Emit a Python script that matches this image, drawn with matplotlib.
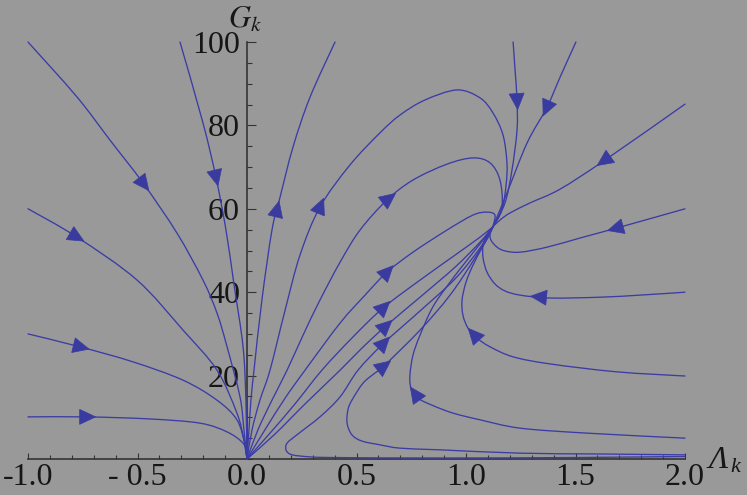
import numpy as np
import matplotlib
matplotlib.use("Agg")
import matplotlib.pyplot as plt
from matplotlib.patches import Polygon, PathPatch
from matplotlib.path import Path

# ---------------- data ----------------
# each flow line: list of (Lambda_k, G_k) points, ordered along the flow direction
curve_A = [(-1.0, 100), (-0.776, 86.8), (-0.626, 76.5), (-0.475, 66.2), (-0.320, 54.2),
           (-0.201, 42.9), (-0.137, 35.0), (-0.091, 26.9), (-0.032, 14.9), (-0.014, 7.0), (0, 0)]
curve_B = [(-1.0, 60.0), (-0.776, 53.2), (-0.502, 42.9), (-0.292, 30.9), (-0.137, 21.3),
           (-0.046, 11.0), (-0.014, 4.6), (0, 0)]
curve_C = [(-1.0, 30.0), (-0.763, 26.9), (-0.521, 23.3), (-0.292, 18.9), (-0.137, 14.1),
           (-0.046, 9.4), (-0.009, 3.4), (0, 0)]
curve_D = [(-1.0, 10.1), (-0.731, 10.1), (-0.443, 9.6), (-0.215, 8.6), (-0.091, 6.5),
           (-0.018, 3.8), (-0.005, 1.5), (0, 0)]
curve_E = [(-0.306, 100), (-0.201, 80.6), (-0.142, 67.6), (-0.096, 54.9), (-0.059, 41.7),
           (-0.018, 26.9), (-0.005, 14.1), (0, 0)]
curve_F = [(0, 0), (0.009, 7.0), (0.018, 14.1), (0.032, 21.3), (0.068, 38.1), (0.114, 54.9),
           (0.151, 62.8), (0.210, 74.8), (0.288, 86.8), (0.402, 100.0)]
curve_G = [(0, 0), (0.023, 7.0), (0.059, 14.1), (0.105, 21.3), (0.174, 35.7), (0.242, 48.9),
           (0.333, 60.4), (0.470, 70.5), (0.607, 78.2), (0.699, 82.5), (0.813, 86.1),
           (0.959, 88.5), (1.064, 86.6), (1.123, 83.0), (1.169, 77.7), (1.187, 71.0),
           (1.183, 65.7), (1.164, 59.7), (1.123, 55.7)]
curve_H = [(0, 0), (0.050, 7.0), (0.114, 14.1), (0.183, 21.3), (0.256, 29.7), (0.333, 38.1),
           (0.425, 47.2), (0.516, 54.9), (0.639, 62.1), (0.758, 66.9), (0.913, 70.7),
           (1.032, 72.2), (1.110, 71.0), (1.155, 66.9), (1.164, 60.4), (1.123, 55.7)]
curve_I = [(0, 0), (0.082, 7.0), (0.174, 14.6), (0.265, 21.3), (0.425, 32.6), (0.539, 39.3),
           (0.639, 44.8), (0.758, 49.6), (0.913, 54.9), (1.032, 58.5), (1.096, 59.2),
           (1.132, 58.5), (1.123, 55.7)]
curve_J = [(0, 0), (0.105, 6.2), (0.219, 13.2), (0.342, 21.3), (0.479, 29.0), (0.621, 36.2),
           (0.790, 42.9), (0.950, 48.9), (1.064, 53.2), (1.123, 55.7)]
curve_K = [(0, 0), (0.128, 6.0), (0.265, 13.2), (0.425, 21.3), (0.525, 26.6), (0.630, 31.7),
           (0.790, 38.8), (0.950, 46.0), (1.064, 52.0), (1.123, 55.7)]
curve_O = [(2.0, 0.6), (1.507, 0.36), (0.927, 0.24), (0.379, 0.36), (0.242, 0.72), (0.196, 1.2),
           (0.178, 2.2), (0.183, 3.8), (0.228, 5.8), (0.333, 10.1), (0.425, 14.9), (0.507, 21.3),
           (0.621, 27.6), (0.790, 35.5), (0.950, 43.2), (1.064, 50.6), (1.123, 55.7)]
curve_N = [(2.0, 1.0), (1.612, 1.2), (1.247, 1.4), (0.881, 2.2), (0.699, 2.6), (0.607, 3.4),
           (0.525, 4.3), (0.479, 5.8), (0.457, 8.6), (0.461, 11.8), (0.479, 14.1), (0.530, 18.2),
           (0.584, 20.6), (0.621, 22.1), (0.790, 30.9), (0.927, 39.3), (1.041, 48.2), (1.123, 55.7)]
curve_P7 = [(2.0, 5.0), (1.553, 6.2), (1.247, 7.4), (1.064, 9.4), (0.941, 11.0), (0.845, 12.9),
            (0.781, 14.6), (0.749, 17.0), (0.744, 20.1), (0.758, 24.9), (0.790, 29.7),
            (0.849, 36.5), (0.927, 42.4), (1.005, 47.7), (1.078, 52.5), (1.123, 55.7)]
curve_P6 = [(2.0, 19.9), (1.689, 20.9), (1.384, 22.8), (1.215, 24.5), (1.110, 26.9), (1.050, 29.0),
            (1.009, 31.4), (0.986, 34.5), (0.982, 38.1), (1.000, 42.4), (1.032, 46.5),
            (1.073, 50.6), (1.105, 53.5), (1.123, 55.7)]
curve_P5 = [(2.0, 40.0), (1.795, 39.3), (1.612, 38.8), (1.384, 38.6), (1.247, 39.3), (1.178, 40.3),
            (1.132, 42.0), (1.096, 44.8), (1.078, 48.2), (1.078, 51.3), (1.096, 53.7), (1.123, 55.7)]
curve_P4 = [(2.0, 60.0), (1.689, 55.4), (1.521, 53.0), (1.370, 50.8), (1.247, 49.6), (1.178, 49.9),
            (1.142, 50.8), (1.114, 52.5), (1.110, 54.2), (1.123, 55.7)]
curve_P3 = [(2.0, 85.1), (1.635, 71.7), (1.429, 64.7), (1.292, 61.4), (1.201, 59.0),
            (1.155, 57.3), (1.123, 55.7)]
curve_P2 = [(1.502, 100.0), (1.434, 92.1), (1.370, 84.4), (1.279, 75.8), (1.187, 63.8), (1.123, 55.7)]
curve_P1 = [(1.215, 100), (1.224, 93.3), (1.233, 86.1), (1.233, 78.9), (1.210, 69.3),
            (1.178, 61.4), (1.123, 55.7)]

curves = [curve_A, curve_B, curve_C, curve_D, curve_E, curve_F, curve_G, curve_H, curve_I,
          curve_J, curve_K, curve_O, curve_N, curve_P7, curve_P6, curve_P5, curve_P4,
          curve_P3, curve_P2, curve_P1]
# approximate arrow-head location on each curve (same order)
arrow_at = [(-0.475, 66.2), (-0.785, 53.2), (-0.763, 27.1), (-0.735, 10.1), (-0.155, 67.6),
            (0.128, 59.7), (0.333, 60.4), (0.639, 62.6), (0.635, 44.8), (0.621, 36.2),
            (0.630, 31.7), (0.621, 27.6), (0.621, 22.1), (0.758, 14.9), (1.041, 29.7),
            (1.338, 38.6), (1.689, 55.4), (1.635, 71.7), (1.370, 84.4), (1.233, 86.1)]

x_ticks = [-1.0, -0.5, 0.0, 0.5, 1.0, 1.5, 2.0]
x_tick_labels = ["-1.0", "- 0.5", "0.0", "0.5", "1.0", "1.5", "2.0"]
y_ticks = [20, 40, 60, 80, 100]
y_tick_labels = ["20", "40", "60", "80", "100"]

# ---------------- style ----------------
BG = "#999999"
LINE = "#3b3ca6"
ARROW = "#3a3b9e"
AXC = "#333333"
TXT = "#161616"

plt.rcParams["font.family"] = ["Liberation Serif", "DejaVu Serif"]
plt.rcParams["mathtext.fontset"] = "stix"

fig = plt.figure(figsize=(7.47, 4.95), dpi=100, facecolor=BG)
ax = fig.add_axes([28 / 747, 36 / 495, 657 / 747, 417 / 495])
ax.set_facecolor(BG)
ax.set_xlim(-1, 2)
ax.set_ylim(0, 100)

for s in ("top", "right"):
    ax.spines[s].set_visible(False)
ax.spines["left"].set_position(("data", 0))
ax.spines["bottom"].set_position(("data", 0))
for s in ("left", "bottom"):
    ax.spines[s].set_color(AXC)
    ax.spines[s].set_linewidth(1.2)
    ax.spines[s].set_zorder(1)

ax.set_xticks(x_ticks)
ax.set_xticklabels(x_tick_labels)
ax.set_xticks(np.arange(-1.0, 2.0001, 0.1), minor=True)
ax.set_yticks(y_ticks)
ax.set_yticklabels(y_tick_labels)
ax.set_yticks(np.arange(0, 100.001, 5), minor=True)
ax.tick_params(axis="x", which="major", direction="in", length=4.5, width=0.8, color=AXC,
               labelsize=23, labelcolor=TXT, pad=3)
ax.tick_params(axis="x", which="minor", direction="in", length=2.6, width=0.8, color=AXC)
ax.tick_params(axis="y", which="major", direction="in", length=6.5, width=0.8, color=AXC,
               labelsize=23, labelcolor=TXT, pad=5)
ax.tick_params(axis="y", which="minor", direction="in", length=3.8, width=0.8, color=AXC)

fig.canvas.draw()
T = ax.transData
Tinv = T.inverted()


def smooth_path(pts):
    """Cubic Bezier path through the given points (Catmull-Rom tangents, display space)."""
    P = T.transform(np.asarray(pts, dtype=float))
    n = len(P)
    verts = [P[0]]
    codes = [Path.MOVETO]
    for i in range(n - 1):
        p0 = P[i - 1] if i > 0 else P[i]
        p1, p2 = P[i], P[i + 1]
        p3 = P[i + 2] if i + 2 < n else P[i + 1]
        c1 = p1 + (p2 - p0) / 6.0
        c2 = p2 - (p3 - p1) / 6.0
        verts += [c1, c2, p2]
        codes += [Path.CURVE4] * 3
    return Path(Tinv.transform(np.array(verts)), codes)


for c in curves:
    ax.add_patch(PathPatch(smooth_path(c), facecolor="none", edgecolor=LINE, lw=0.95,
                           clip_on=False, zorder=3, capstyle="round", joinstyle="round"))

# arrow heads: filled triangles of fixed pixel size, oriented along the curve
L_HEAD, W_HEAD = 16.0, 7.5
for c, a in zip(curves, arrow_at):
    P = T.transform(np.array(c, dtype=float))
    q = T.transform(np.array(a, dtype=float))
    best = None
    for i in range(len(P) - 1):
        p0, p1 = P[i], P[i + 1]
        d = p1 - p0
        L2 = float(d @ d)
        if L2 == 0:
            continue
        t = np.clip(((q - p0) @ d) / L2, 0, 1)
        proj = p0 + t * d
        dist = np.hypot(*(q - proj))
        if best is None or dist < best[0]:
            best = (dist, proj, d / np.sqrt(L2))
    _, c0, u = best
    nrm = np.array([-u[1], u[0]])
    tip = c0 + u * L_HEAD * 0.6
    base = c0 - u * L_HEAD * 0.4
    tri = np.array([tip, base + nrm * W_HEAD, base - nrm * W_HEAD])
    ax.add_patch(Polygon(Tinv.transform(tri), closed=True, facecolor=ARROW,
                         edgecolor=ARROW, lw=0.5, zorder=4, clip_on=False))

fig.text(245 / 747, 1 - 20 / 495, r"$G_k$", fontsize=22, color=TXT, ha="center", va="center")
fig.text(718 / 747, 1 - 461 / 495, "Λ", fontsize=23, style="italic", color=TXT,
         ha="center", va="center")
fig.text(735 / 747, 1 - 467 / 495, "k", fontsize=16, style="italic", color=TXT,
         ha="center", va="center")

fig.savefig("out.png", dpi=100, facecolor=BG)
